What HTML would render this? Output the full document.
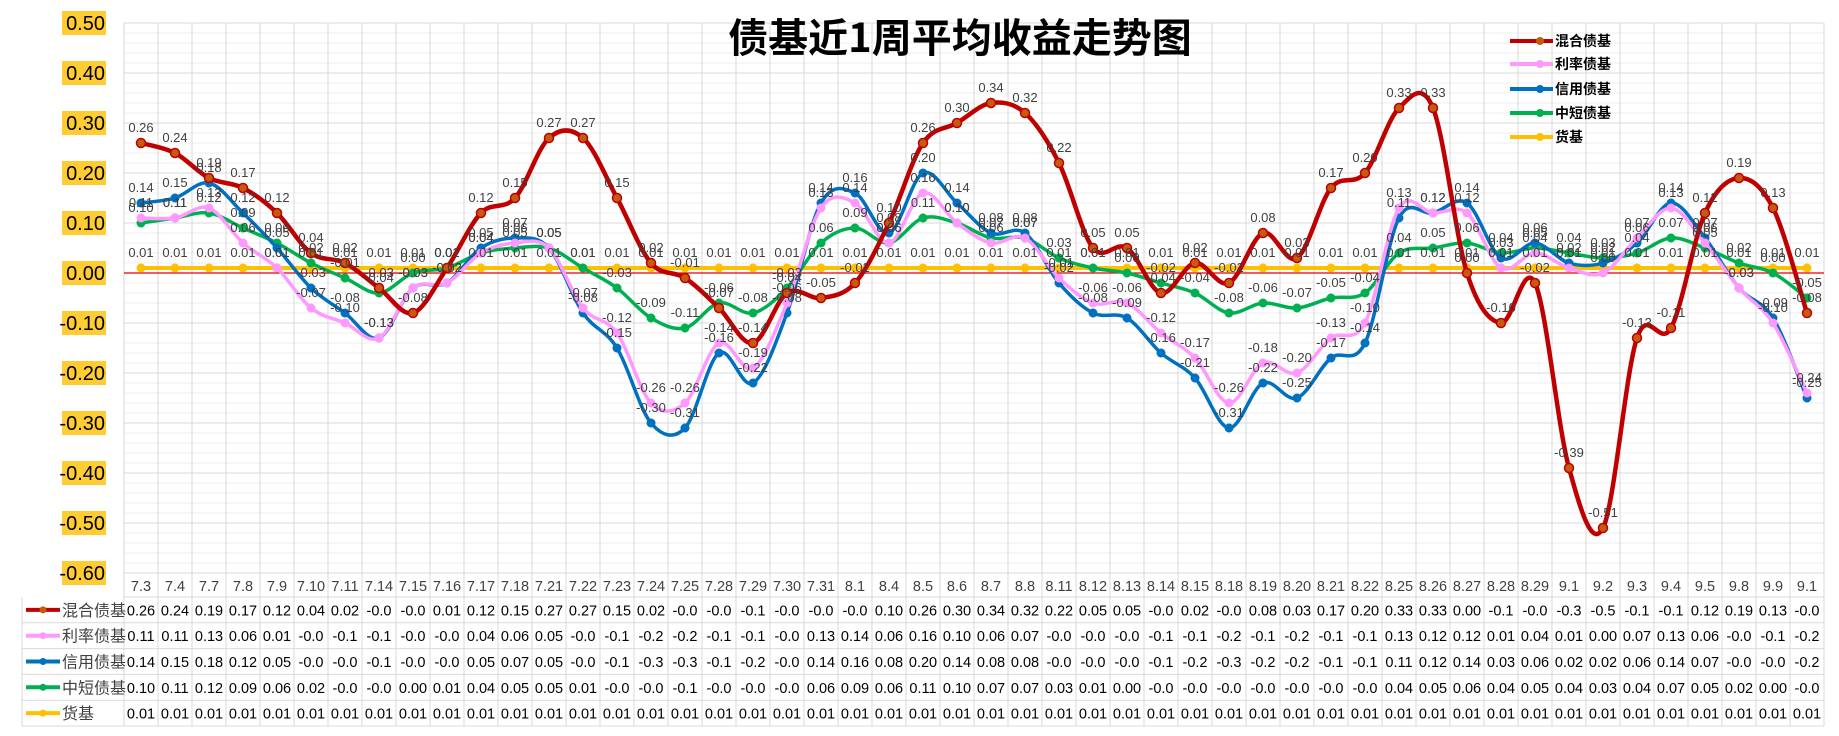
<!DOCTYPE html>
<html><head><meta charset="utf-8">
<style>
html,body{margin:0;padding:0;background:#fff;}
svg{display:block;font-family:"Liberation Sans","Noto Sans CJK SC",sans-serif;}
</style></head>
<body>
<svg id="chart" width="1839" height="736" viewBox="0 0 1839 736" xmlns="http://www.w3.org/2000/svg">
<g id="grid"></g>
<g id="yaxis"></g>
<g id="series"></g>
<g id="labels"></g>
<g id="table"></g>
<g id="legend"></g>
<text x="960" y="52" text-anchor="middle" font-size="40" font-weight="bold" fill="#000" font-family="'Noto Sans CJK SC',sans-serif">债基近1周平均收益走势图</text>
</svg>
<script>
const categories = ["7.3","7.4","7.7","7.8","7.9","7.10","7.11","7.14","7.15","7.16","7.17","7.18","7.21","7.22","7.23","7.24","7.25","7.28","7.29","7.30","7.31","8.1","8.4","8.5","8.6","8.7","8.8","8.11","8.12","8.13","8.14","8.15","8.18","8.19","8.20","8.21","8.22","8.25","8.26","8.27","8.28","8.29","9.1","9.2","9.3","9.4","9.5","9.8","9.9","9.1"];
const seriesNames = ["混合债基","利率债基","信用债基","中短债基","货基"];
const mixedValues = [0.26,0.24,0.19,0.17,0.12,0.04,0.02,-0.03,-0.08,0.01,0.12,0.15,0.27,0.27,0.15,0.02,-0.01,-0.07,-0.14,-0.04,-0.05,-0.02,0.10,0.26,0.30,0.34,0.32,0.22,0.05,0.05,-0.04,0.02,-0.02,0.08,0.03,0.17,0.20,0.33,0.33,0.00,-0.10,-0.02,-0.39,-0.51,-0.13,-0.11,0.12,0.19,0.13,-0.08];
const rateValues = [0.11,0.11,0.13,0.06,0.01,-0.07,-0.10,-0.13,-0.03,-0.02,0.04,0.06,0.05,-0.07,-0.12,-0.26,-0.26,-0.14,-0.19,-0.06,0.13,0.14,0.06,0.16,0.10,0.06,0.07,-0.01,-0.06,-0.06,-0.12,-0.17,-0.26,-0.18,-0.20,-0.13,-0.10,0.13,0.12,0.12,0.01,0.04,0.01,0.00,0.07,0.13,0.06,-0.03,-0.10,-0.24];
const creditValues = [0.14,0.15,0.18,0.12,0.05,-0.03,-0.08,-0.13,-0.03,-0.02,0.05,0.07,0.05,-0.08,-0.15,-0.30,-0.31,-0.16,-0.22,-0.08,0.14,0.16,0.08,0.20,0.14,0.08,0.08,-0.02,-0.08,-0.09,-0.16,-0.21,-0.31,-0.22,-0.25,-0.17,-0.14,0.11,0.12,0.14,0.03,0.06,0.02,0.02,0.06,0.14,0.07,-0.03,-0.09,-0.25];
const shortValues = [0.10,0.11,0.12,0.09,0.06,0.02,-0.01,-0.04,0.00,0.01,0.04,0.05,0.05,0.01,-0.03,-0.09,-0.11,-0.06,-0.08,-0.03,0.06,0.09,0.06,0.11,0.10,0.07,0.07,0.03,0.01,0.00,-0.02,-0.04,-0.08,-0.06,-0.07,-0.05,-0.04,0.04,0.05,0.06,0.04,0.05,0.04,0.03,0.04,0.07,0.05,0.02,0.00,-0.05];
const moneyValues = [0.01,0.01,0.01,0.01,0.01,0.01,0.01,0.01,0.01,0.01,0.01,0.01,0.01,0.01,0.01,0.01,0.01,0.01,0.01,0.01,0.01,0.01,0.01,0.01,0.01,0.01,0.01,0.01,0.01,0.01,0.01,0.01,0.01,0.01,0.01,0.01,0.01,0.01,0.01,0.01,0.01,0.01,0.01,0.01,0.01,0.01,0.01,0.01,0.01,0.01];
const yTicks = [0.5,0.4,0.3,0.2,0.1,0,-0.1,-0.2,-0.3,-0.4,-0.5,-0.6];

const NS="http://www.w3.org/2000/svg";
const X0=124, COL=34, Y0=273, PPU=500, YTOP=23, YBOT=573;
const xOf=i=>X0+COL*i+COL/2;
const yOf=v=>Y0-v*PPU;
function mk(tag,attrs,parent){const e=document.createElementNS(NS,tag);for(const k in attrs)e.setAttribute(k,attrs[k]);parent.appendChild(e);return e;}
const grid=document.getElementById('grid'), yaxis=document.getElementById('yaxis');
// minor gridlines
for(let k=0;k<=55;k++){const v=0.5-k*0.02;const y=yOf(v);
  const l=mk('line',{x1:X0,x2:X0+COL*categories.length,y1:y,y2:y,stroke:(k%5===0)?'#d9d9d9':'#efefef','stroke-width':1},grid);
  
  
}
for(let i=0;i<=categories.length;i++){const x=X0+COL*i;
  const l=mk('line',{x1:x,x2:x,y1:YTOP,y2:YBOT,stroke:'#d9d9d9','stroke-width':1},grid);
  
  
}
const zl=mk('line',{x1:X0,x2:X0+COL*categories.length,y1:Y0,y2:Y0,stroke:'#e00000','stroke-width':1.2},grid);


yTicks.forEach(v=>{const y=yOf(v);const s=v.toFixed(2);
  const r=mk('rect',{x:62,y:y-12,width:44,height:24,fill:'#ffcc33'},yaxis);
  
  
  const t=mk('text',{x:105,y:y+7,'text-anchor':'end','font-size':20,fill:'#000'},yaxis);
  t.textContent=s;
  
  
});
function smoothPath(vals){
  const pts=vals.map((v,i)=>[xOf(i),yOf(v)]);
  let d='M'+pts[0][0]+','+pts[0][1];
  for(let i=0;i<pts.length-1;i++){
    const p0=pts[Math.max(0,i-1)],p1=pts[i],p2=pts[i+1],p3=pts[Math.min(pts.length-1,i+2)];
    const c1=[p1[0]+(p2[0]-p0[0])/6,p1[1]+(p2[1]-p0[1])/6];
    const c2=[p2[0]-(p3[0]-p1[0])/6,p2[1]-(p3[1]-p1[1])/6];
    d+=' C'+c1.join(',')+' '+c2.join(',')+' '+p2.join(',');
  }
  return d;
}
const seriesData=[mixedValues,rateValues,creditValues,shortValues,moneyValues];
const colors=['#c00000','#ff99ff','#0070c0','#00b050','#ffc000'];
const markerFill=['#c0392b','#ff99ff','#0070c0','#00b050','#ffc000'];
const widths=[4.5,3.5,3.5,3.5,4];
const seriesKeys=['mixed','rate','credit','short','money'];
const sg=document.getElementById('series'), lg=document.getElementById('labels');
for(let s=4;s>=0;s--){
  const g=mk('g',{},sg);
  
  
  const p=mk('path',{d:smoothPath(seriesData[s]),fill:'none',stroke:colors[s],'stroke-width':widths[s],'stroke-linejoin':'round'},g);
  
  
  seriesData[s].forEach((v,i)=>{
    const c=mk('circle',{cx:xOf(i),cy:yOf(v),r:s===0?4.5:4.5,fill:s===0?'#c55a11':markerFill[s],stroke:colors[s],'stroke-width':s===0?1.5:0},g);
    
    
  });
}
for(let s=0;s<5;s++){
  seriesData[s].forEach((v,i)=>{
    const t=mk('text',{x:xOf(i),y:yOf(v)-11,'text-anchor':'middle','font-size':13,fill:'#404040'},lg);
    t.textContent=v.toFixed(2);
    
    
  });
}
// table
const tg=document.getElementById('table');
const RH=25.8, HT=573;
const n=categories.length;
for(let r=0;r<=6;r++){const y=HT+(r===0?0:24+(r-1)*RH);
  const l=mk('line',{x1:r<=1?X0:22,x2:X0+COL*n,y1:y,y2:y,stroke:'#d9d9d9','stroke-width':1},tg);
  
  
}
for(let i=0;i<=n;i++){const x=X0+COL*i;
  const l=mk('line',{x1:x,x2:x,y1:HT,y2:HT+24+5*RH,stroke:'#d9d9d9','stroke-width':1},tg);
  
  
}
const ll=mk('line',{x1:22,x2:22,y1:HT+24,y2:HT+24+5*RH,stroke:'#d9d9d9','stroke-width':1},tg);


categories.forEach((c,i)=>{
  const t=mk('text',{x:xOf(i),y:HT+18,'text-anchor':'middle','font-size':14.5,fill:'#404040'},tg);
  t.textContent=c;
  
  
});
for(let s=0;s<5;s++){
  const yc=HT+24+s*RH+RH/2;
  const ic=mk('line',{x1:26,x2:60,y1:yc,y2:yc,stroke:colors[s],'stroke-width':4},tg);
  
  
  const icd=mk('circle',{cx:43,cy:yc,r:3.5,fill:s===0?'#c55a11':colors[s]},tg);
  
  
  const lt=mk('text',{x:62,y:yc+6,'font-size':16,fill:'#404040'},tg);
  lt.textContent=seriesNames[s];
  
  
  seriesData[s].forEach((v,i)=>{
    const t=mk('text',{x:xOf(i),y:yc+5.5,'text-anchor':'middle','font-size':14.5,fill:'#000'},tg);
    t.textContent=v.toFixed(2).slice(0,4);
    
    
  });
}
// legend
const lgd=document.getElementById('legend');
const legY=[41,64,89,113,137];
for(let s=0;s<5;s++){
  const g=mk('g',{},lgd);
  
  
  const l=mk('line',{x1:1510,x2:1553,y1:legY[s],y2:legY[s],stroke:colors[s],'stroke-width':4},g);
  
  
  const c=mk('circle',{cx:1540,cy:legY[s],r:4,fill:s===0?'#c55a11':colors[s]},g);
  
  
  const t=mk('text',{x:1555,y:legY[s]+5,'font-size':14,'font-weight':'bold',fill:'#000','font-family':"'Noto Sans CJK SC',sans-serif"},g);
  t.textContent=seriesNames[s];
  
  
}
</script>
</body></html>
